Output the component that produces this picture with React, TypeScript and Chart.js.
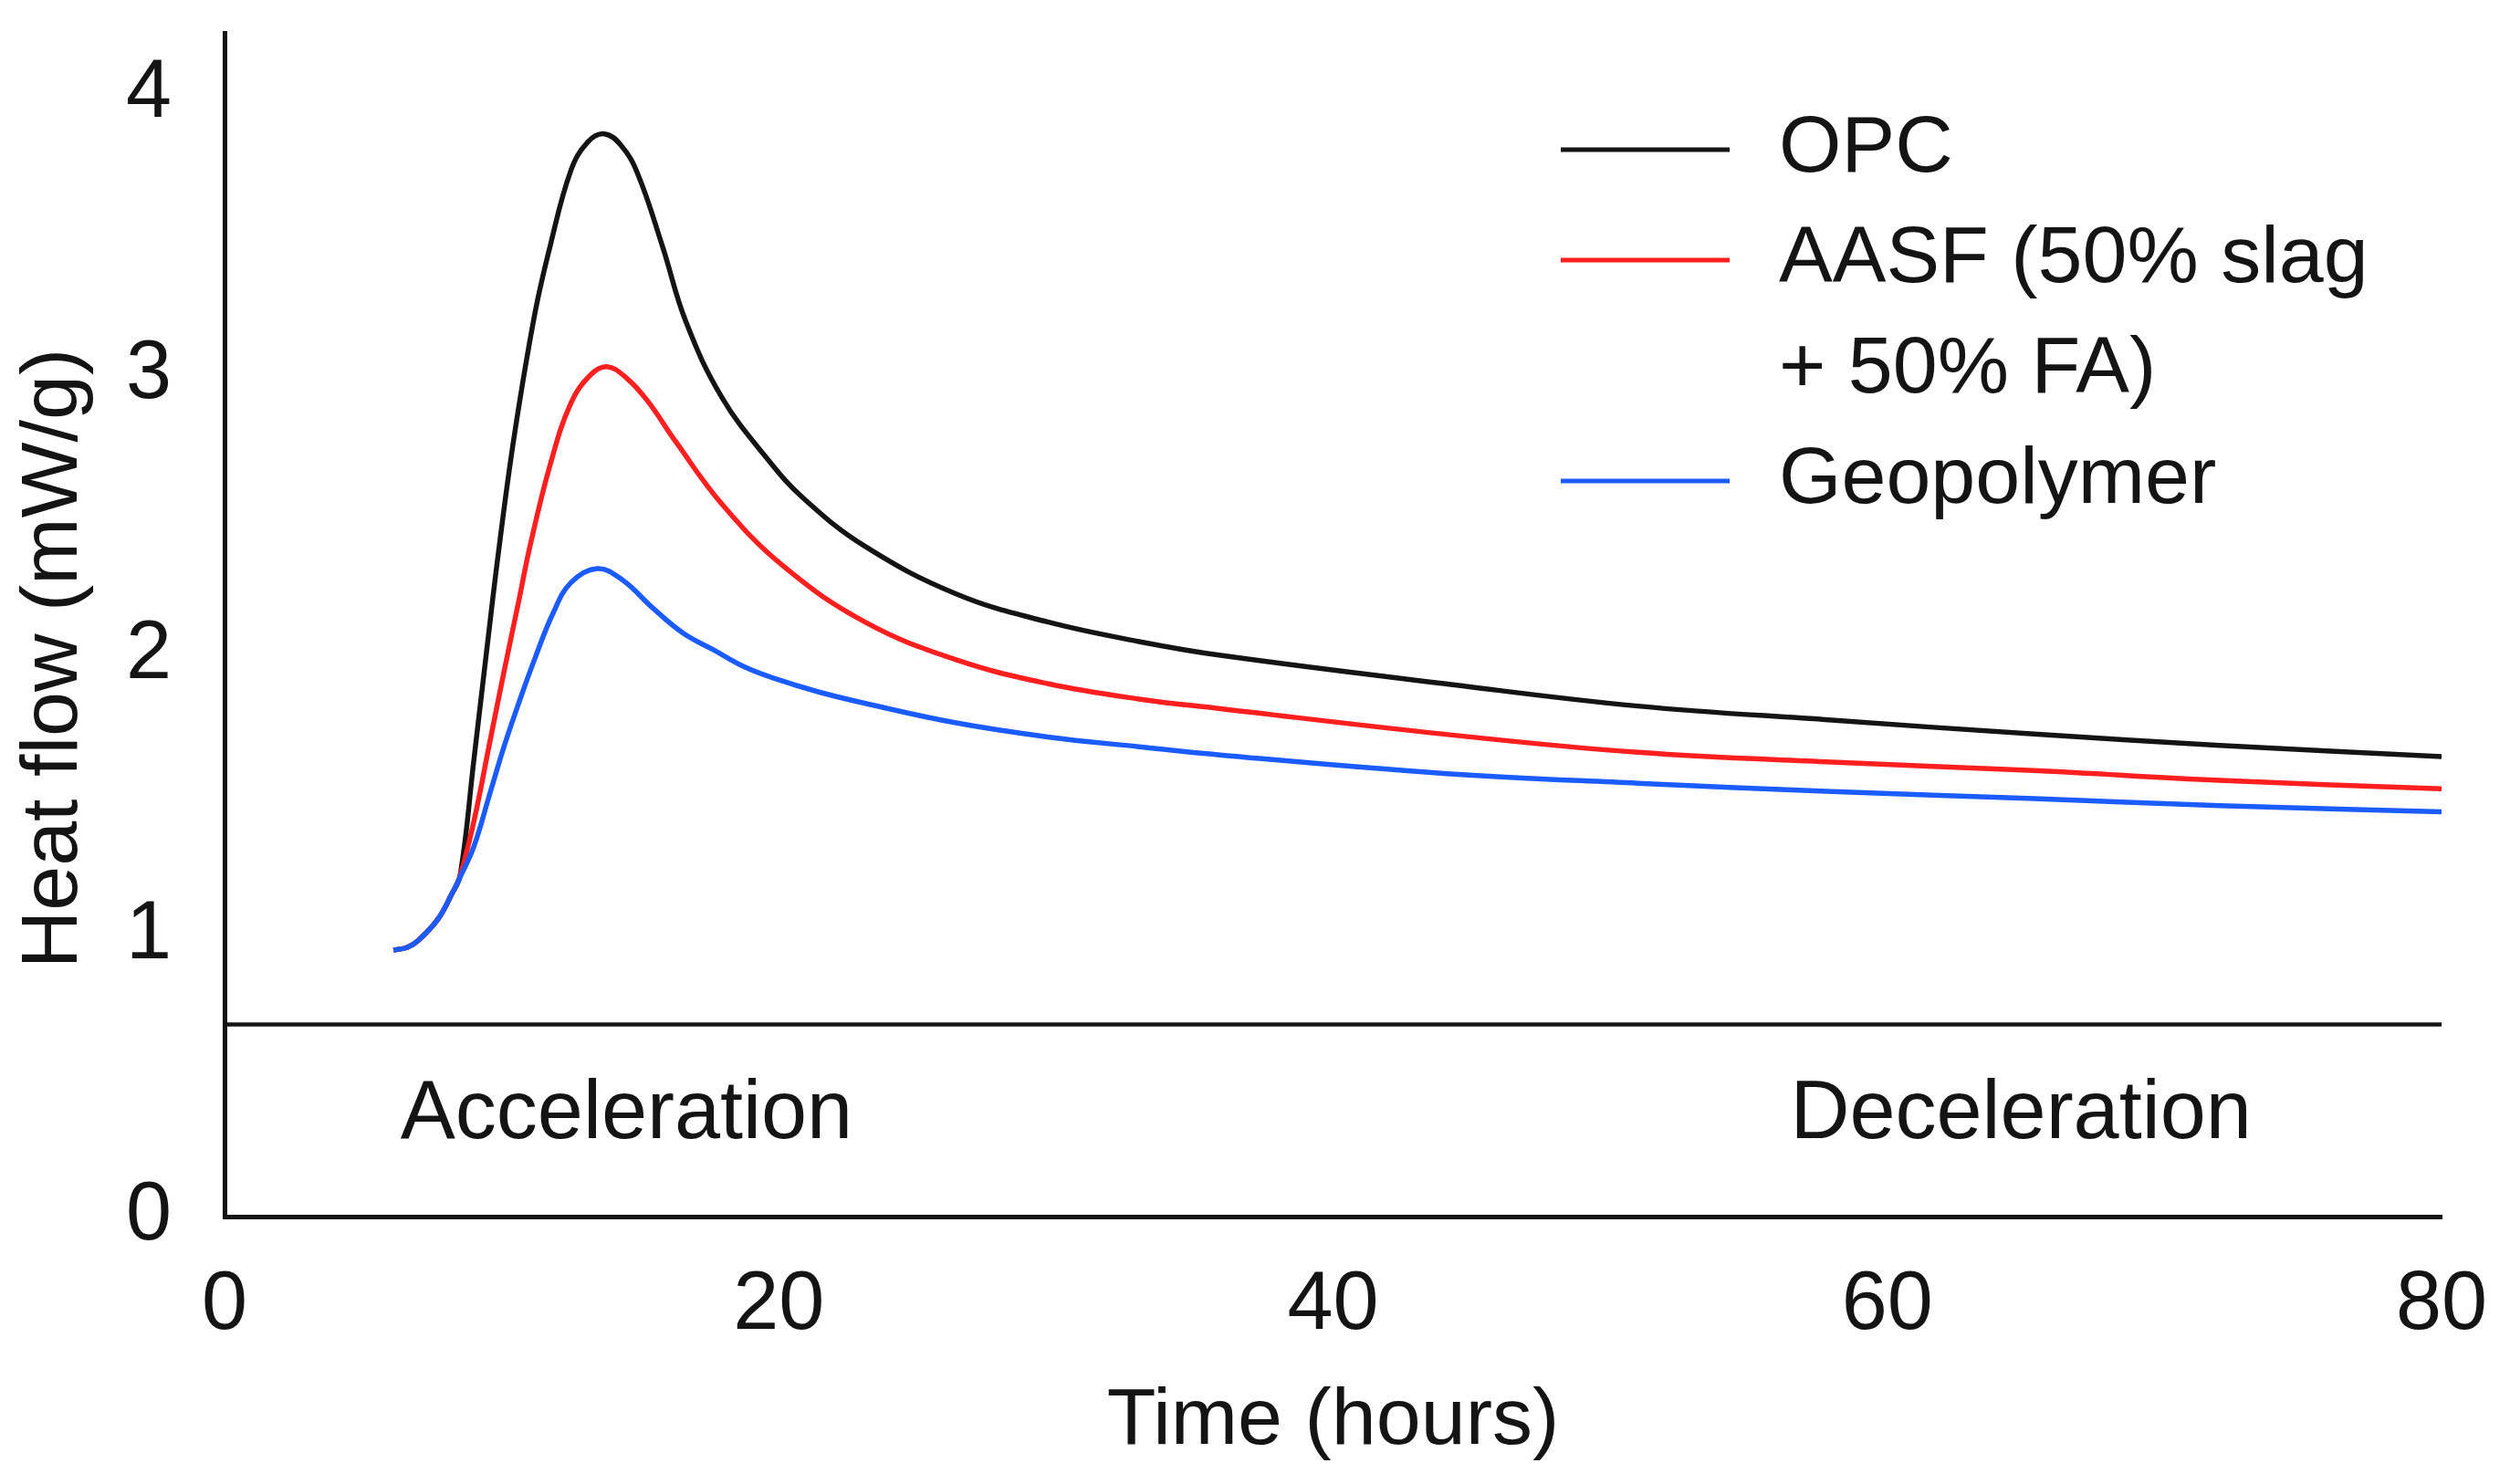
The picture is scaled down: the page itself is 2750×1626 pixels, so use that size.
import { useEffect, useRef } from 'react';
import { Chart, registerables, type Plugin } from 'chart.js';

Chart.register(...registerables);

const FONT = '"Liberation Sans", Arial, Helvetica, sans-serif';
const INK = '#141414';

// hours -> mW/g
const opcHours = [6.1, 6.6, 7.0, 7.7, 8.2, 8.5, 9.0, 9.45, 9.9, 10.45, 11.2, 11.75, 12.5, 13.1, 13.7, 14.3, 14.9, 15.8, 16.65, 17.95, 19.6, 20.9, 23.1, 26.4, 29.7, 33, 36, 44, 51, 58, 65.3, 72, 80];
const opcFlow  = [0.95, 0.96, 0.985, 1.06, 1.15, 1.215, 1.63, 2.01, 2.38, 2.78, 3.22, 3.46, 3.73, 3.83, 3.86, 3.82, 3.72, 3.46, 3.19, 2.92, 2.70, 2.56, 2.39, 2.22, 2.12, 2.05, 2.00, 1.90, 1.82, 1.77, 1.72, 1.68, 1.64];

const aasfHours = [6.1, 6.6, 7.0, 7.7, 8.2, 8.5, 9.0, 9.55, 10.1, 10.65, 11.0, 11.75, 12.5, 13.2, 13.8, 14.5, 15.25, 16.3, 17.95, 20.15, 23.1, 26.4, 29.7, 33, 36, 44, 51, 58, 65.3, 72, 80];
const aasfFlow  = [0.95, 0.96, 0.985, 1.06, 1.15, 1.215, 1.41, 1.68, 1.95, 2.21, 2.38, 2.68, 2.90, 3.00, 3.03, 2.99, 2.91, 2.76, 2.54, 2.32, 2.12, 1.985, 1.90, 1.845, 1.81, 1.72, 1.655, 1.62, 1.59, 1.555, 1.525];

const geoHours = [6.1, 6.6, 7.0, 7.7, 8.2, 8.5, 9.0, 9.55, 10.1, 10.65, 11.2, 11.85, 12.5, 13.45, 14.35, 15.45, 16.55, 17.65, 18.75, 19.8, 21.45, 23.1, 26.4, 29.7, 33, 36, 44, 51, 58, 65.3, 72, 80];
const geoFlow  = [0.95, 0.96, 0.985, 1.06, 1.15, 1.21, 1.32, 1.50, 1.68, 1.84, 1.99, 2.15, 2.26, 2.31, 2.27, 2.17, 2.08, 2.02, 1.96, 1.92, 1.87, 1.83, 1.76, 1.71, 1.675, 1.645, 1.58, 1.545, 1.515, 1.49, 1.465, 1.443];

const seriesNames = [['OPC'], ['AASF (50% slag', '+ 50% FA)'], ['Geopolymer']];
const seriesColors = ['#141414', '#ff1f1f', '#1a5cff'];

// horizontal divider between the curves and the phase names
const dividerHours = [0, 80];
const dividerFlow = 0.685;

const phaseNames = ['Acceleration', 'Deceleration'];
const phaseHours = [6.35, 56.5];
const phaseFlow = 0.28;

const xTicks = [0, 20, 40, 60, 80];
const yTicks = [0, 1, 2, 3, 4];

const toPoints = (xs: number[], ys: number[]) => xs.map((x, i) => ({ x, y: ys[i] }));

const legendPlugin: Plugin<'line'> = {
  id: 'sideLegend',
  afterDraw(chart) {
    const { ctx } = chart;
    ctx.save();
    ctx.font = `88px ${FONT}`;
    ctx.textBaseline = 'middle';
    ctx.textAlign = 'left';
    ctx.fillStyle = INK;
    ctx.lineWidth = 5;
    let y = 164;
    seriesNames.forEach((lines, i) => {
      ctx.strokeStyle = seriesColors[i];
      ctx.beginPath();
      ctx.moveTo(1710, y);
      ctx.lineTo(1895, y);
      ctx.stroke();
      lines.forEach((t, j) => ctx.fillText(t, 1949, y + j * 121));
      y += lines.length * 121;
    });
    ctx.restore();
  },
};

const phasePlugin: Plugin<'line'> = {
  id: 'phaseNames',
  afterDatasetsDraw(chart) {
    const { ctx, scales } = chart;
    ctx.save();
    ctx.font = `90px ${FONT}`;
    ctx.textBaseline = 'alphabetic';
    ctx.textAlign = 'left';
    ctx.fillStyle = INK;
    phaseNames.forEach((name, i) => {
      ctx.fillText(name, scales.x.getPixelForValue(phaseHours[i]), scales.y.getPixelForValue(phaseFlow));
    });
    ctx.restore();
  },
};

const yTitlePlugin: Plugin<'line'> = {
  id: 'yTitle',
  afterDraw(chart) {
    const { ctx, chartArea } = chart;
    ctx.save();
    ctx.translate(60, (chartArea.top + chartArea.bottom) / 2 + 37);
    ctx.rotate(-Math.PI / 2);
    ctx.font = `88px ${FONT}`;
    ctx.textAlign = 'center';
    ctx.textBaseline = 'middle';
    ctx.fillStyle = INK;
    ctx.fillText('Heat flow (mW/g)', 0, 0);
    ctx.restore();
  },
};

export default function App() {
  const ref = useRef<HTMLCanvasElement>(null);

  useEffect(() => {
    if (!ref.current) return;
    const line = (label: string, data: { x: number; y: number }[], color: string, width: number, order: number) => ({
      label,
      data,
      borderColor: color,
      backgroundColor: color,
      borderWidth: width,
      pointRadius: 0,
      tension: 0.4,
      fill: false,
      order,
    });

    const chart = new Chart(ref.current, {
      type: 'line',
      data: {
        datasets: [
          line('divider', dividerHours.map(x => ({ x, y: dividerFlow })), INK, 4.5, 4),
          line('OPC', toPoints(opcHours, opcFlow), seriesColors[0], 5.5, 3),
          line('AASF (50% slag + 50% FA)', toPoints(aasfHours, aasfFlow), seriesColors[1], 5.5, 2),
          line('Geopolymer', toPoints(geoHours, geoFlow), seriesColors[2], 5.5, 1),
        ],
      },
      options: {
        responsive:          true,
        maintainAspectRatio: false,
        animation:           false,
        layout: { padding: { top: 36, right: 75, left: 0, bottom: 0 } },
        plugins: {
          legend:  { display: false },
          tooltip: { enabled: false },
        },
        scales: {
          x: {
            type: 'linear',
            min: 0,
            max: 80,
            grid:   { display: false, drawTicks: false },
            border: { display: true, color: INK, width: 5 },
            afterBuildTicks: s => { s.ticks = xTicks.map(value => ({ value })); },
            afterFit: s => {
              s.height = 293;
              s.paddingLeft = 0;
              s.paddingRight = 0;
            },
            ticks: {
              color: INK,
              font: { family: FONT, size: 90 },
              padding: 44,
              maxRotation: 0,
              autoSkip: false,
            },
            title: {
              display: true,
              text: 'Time (hours)',
              color: INK,
              font: { family: FONT, size: 88 },
              padding: { top: 0, bottom: 15 },
            },
          },
          y: {
            type: 'linear',
            min: 0,
            max: 4.22,
            grid:   { display: false, drawTicks: false },
            border: { display: true, color: INK, width: 5 },
            afterBuildTicks: s => { s.ticks = yTicks.map(value => ({ value })); },
            afterFit: s => {
              s.width = 246;
              s.paddingTop = 0;
              s.paddingBottom = 0;
            },
            ticks: {
              color: INK,
              font: { family: FONT, size: 90 },
              padding: 58,
            },
          },
        },
      },
      plugins: [phasePlugin, legendPlugin, yTitlePlugin],
    });
    return () => chart.destroy();
  }, []);

  return (
    <div style={{ position: 'fixed', left: 0, top: 0, width: 2750, height: 1626, background: '#fff' }}>
      <canvas ref={ref} />
    </div>
  );
}
